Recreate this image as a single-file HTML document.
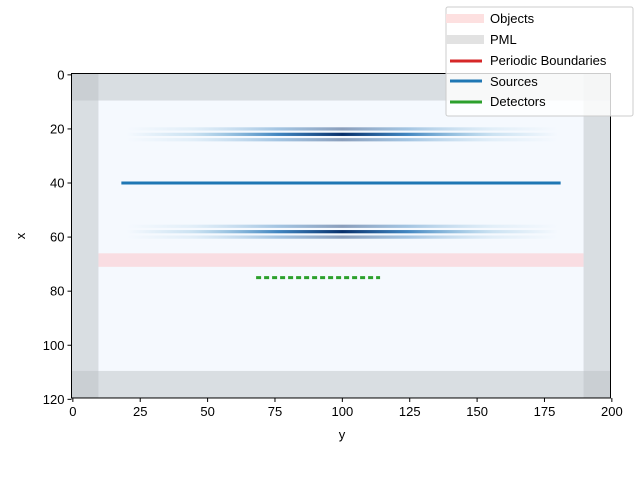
<!DOCTYPE html>
<html><head><meta charset="utf-8"><style>
body{margin:0;background:#fff}
svg{font-family:"Liberation Sans","DejaVu Sans",sans-serif;font-size:13px}
</style></head><body>
<svg width="640" height="480" id="c">
<defs>
<linearGradient id="beam" x1="0" x2="1" y1="0" y2="0">
<stop offset="0" stop-color="#6baed6" stop-opacity="0"/>
<stop offset="0.15" stop-color="#6baed6" stop-opacity="0.3"/>
<stop offset="0.35" stop-color="#2171b5" stop-opacity="0.85"/>
<stop offset="0.5" stop-color="#08306b" stop-opacity="1"/>
<stop offset="0.65" stop-color="#2171b5" stop-opacity="0.85"/>
<stop offset="0.85" stop-color="#6baed6" stop-opacity="0.3"/>
<stop offset="1" stop-color="#6baed6" stop-opacity="0"/>
</linearGradient>
</defs>
<g id="plot"></g>
<text x="342" y="439" text-anchor="middle">y</text>
<text x="25" y="236" text-anchor="middle" transform="rotate(-90 25 236)">x</text>
<g>
<rect x="446" y="7" width="187" height="109" rx="2" fill="#fff" fill-opacity="0.8" stroke="#ccc"/>
<rect x="446" y="14" width="38" height="9" fill="#fde0e0"/>
<text x="490" y="23">Objects</text>
<rect x="446" y="35" width="38" height="9" fill="#e2e2e2"/>
<text x="490" y="44">PML</text>
<line x1="450" x2="482" y1="61" y2="61" stroke="#d62728" stroke-width="3"/>
<text x="490" y="65">Periodic Boundaries</text>
<line x1="450" x2="482" y1="81" y2="81" stroke="#1f77b4" stroke-width="3"/>
<text x="490" y="86">Sources</text>
<line x1="450" x2="482" y1="102" y2="102" stroke="#2ca02c" stroke-width="3"/>
<text x="490" y="106">Detectors</text>
</g>
</svg>
<script>
const xTicks=[0,25,50,75,100,125,150,175,200];
const yTicks=[0,20,40,60,80,100,120];
const beamRows=[22,58];
const beamOffsets=[-2,0,2];
const beamOpacity=[0.45,1,0.45];
const sourceRow=[40];const sourceSpan=[18,181];
const detectorRow=[75];const detectorSpan=[68,114];
const objectRows=[66,71];
const pmlWidth=[10];const gridW=[200];const gridH=[120];
const NS="http://www.w3.org/2000/svg";
const X=v=>71.5+(v+0.5)*2.695, Y=v=>73.5+(v+0.5)*2.704;
const g=document.getElementById('plot');
function el(t,a){const e=document.createElementNS(NS,t);for(const k in a)e.setAttribute(k,a[k]);g.appendChild(e);return e;}
const L=X(-0.5),R=X(gridW[0]-0.5),T=Y(-0.5),B=Y(gridH[0]-0.5);
let bg=el('rect',{x:L,y:T,width:R-L,height:B-T,fill:'#f5f9fe'});


beamRows.forEach((r,i)=>{beamOffsets.forEach((o,j)=>{
 let b=el('rect',{x:X(20),y:Y(r+o-0.6),width:X(180)-X(20),height:Y(1.2)-Y(0),fill:'url(#beam)',opacity:beamOpacity[j]});
 
 
});});
const p=pmlWidth[0];
let ob=el('rect',{x:X(p-0.5),y:Y(objectRows[0]),width:X(gridW[0]-p-0.5)-X(p-0.5),height:Y(objectRows[1])-Y(objectRows[0]),fill:'#f9dde2'});


[[-0.5,-0.5,gridW[0],p],[-0.5,gridH[0]-p-0.5,gridW[0],p],[-0.5,-0.5,p,gridH[0]],[gridW[0]-p-0.5,-0.5,p,gridH[0]]].forEach((q,i)=>{
 let m=el('rect',{x:X(q[0]),y:Y(q[1]),width:X(q[0]+q[2])-X(q[0]),height:Y(q[1]+q[3])-Y(q[1]),fill:'#b8bcc2','fill-opacity':0.45});
 
 
});
let s=el('line',{x1:X(sourceSpan[0]),x2:X(sourceSpan[1]),y1:Y(sourceRow[0]),y2:Y(sourceRow[0]),stroke:'#1f77b4','stroke-width':3});


let d=el('line',{x1:X(detectorSpan[0]),x2:X(detectorSpan[1]),y1:Y(detectorRow[0]),y2:Y(detectorRow[0]),stroke:'#2ca02c','stroke-width':3,'stroke-dasharray':'5 3'});


let fr=el('rect',{x:L,y:T,width:R-L,height:B-T,fill:'none',stroke:'#000','stroke-width':1});


xTicks.forEach(v=>{el('line',{x1:X(v),x2:X(v),y1:B,y2:B+4,stroke:'#000'});
 let t=el('text',{x:X(v),y:B+18,'text-anchor':'middle'});t.textContent=v;
 
 });
yTicks.forEach(v=>{el('line',{x1:L-4,x2:L,y1:Y(v),y2:Y(v),stroke:'#000'});
 let t=el('text',{x:L-7,y:Y(v)+4.5,'text-anchor':'end'});t.textContent=v;
 
 });
</script>
</body></html>
